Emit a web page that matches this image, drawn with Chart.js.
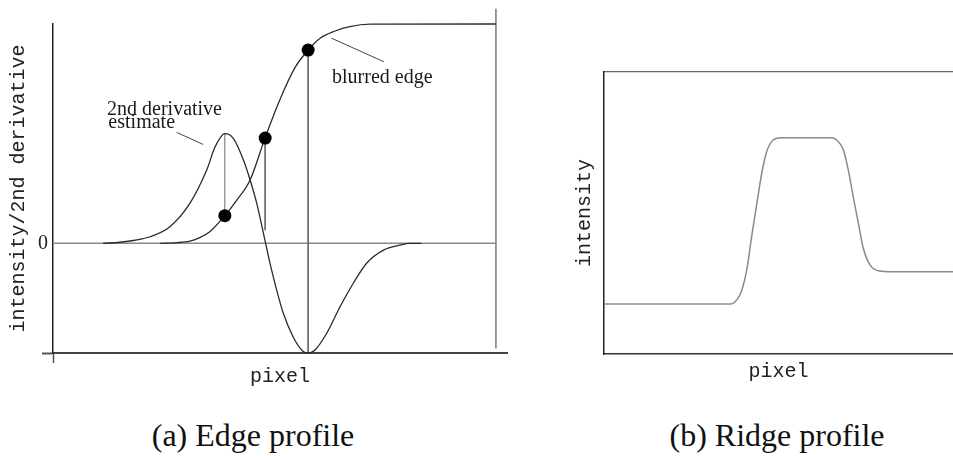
<!DOCTYPE html>
<html><head><meta charset="utf-8">
<script src="https://cdn.jsdelivr.net/npm/chart.js@4.4.1/dist/chart.umd.min.js"></script>
<style>
html,body{margin:0;padding:0;background:#fff;width:953px;height:456px;overflow:hidden;}
#wrap{position:relative;width:953px;height:456px;background:#fff;}
canvas{position:absolute;}
#cL{left:0;top:0;}
#cR{left:540px;top:0;}
.cap{position:absolute;top:419px;font-family:"Liberation Serif","Times New Roman",serif;font-size:32px;line-height:32px;color:#111;white-space:nowrap;transform:translateX(-50%);}
</style></head><body>
<div id="wrap">
<canvas id="cL" width="520" height="400"></canvas>
<canvas id="cR" width="413" height="400"></canvas>
<div class="cap" style="left:253px">(a) Edge profile</div>
<div class="cap" style="left:777px">(b) Ridge profile</div>
</div>
<script>
// ---------- (a) Edge profile ----------
const edgeX = [24.2, 28.0, 30.9, 33.0, 35.4, 38.8, 41.5, 44.5, 47.9, 51.2, 54.6, 57.6, 60.3, 63.7, 67.0, 71.6, 100];
const edgeY = [0, 0.003, 0.01, 0.025, 0.053, 0.126, 0.197, 0.289, 0.482, 0.654, 0.80, 0.881, 0.935, 0.968, 0.988, 0.999, 1.0];

const derivX = [11.3, 15.1, 18.5, 21.9, 26.4, 30.9, 34.7, 36.6, 38.8, 40.7, 43.0, 44.5, 46.0, 48.0, 49.0, 50.5, 52.0, 54.2, 56.3, 57.3, 59.1, 61.8, 64.8, 67.8, 70.8, 74.6, 78.3, 80.6, 83.2];
const derivY = [0, 0.005, 0.014, 0.030, 0.076, 0.182, 0.334, 0.44, 0.50, 0.479, 0.38, 0.289, 0.182, 0, -0.091, -0.213, -0.319, -0.426, -0.49, -0.5, -0.487, -0.41, -0.289, -0.182, -0.091, -0.031, -0.008, 0, 0];

const sampleX = [38.8, 47.9, 57.6];
const sampleY = [0.126, 0.48, 0.881];
const dropToY = [0.5, 0.06, -0.5];

const yTickValues = [-0.5, 0];
const yTickLabels = ['', '0'];

const noteText = ['2nd derivative', 'estimate', 'blurred edge'];
const noteX = [12.2, 12.5, 63.0];
const noteY = [0.583, 0.526, 0.731];
const leaderX = [[27.9, 33.9], [62.9, 74.7]];
const leaderY = [[0.506, 0.451], [0.935, 0.828]];

// ---------- (b) Ridge profile ----------
const ridgeX = [0, 36.1, 38.0, 39.5, 40.9, 42.3, 43.8, 45.2, 46.6, 48.5, 50.9, 64.8, 66.7, 68.6, 70.0, 71.4, 72.9, 74.3, 76.2, 79.1, 81.5, 100];
const ridgeY = [0.177, 0.177, 0.191, 0.227, 0.298, 0.416, 0.534, 0.641, 0.717, 0.759, 0.767, 0.767, 0.759, 0.723, 0.652, 0.558, 0.463, 0.375, 0.316, 0.294, 0.292, 0.292];

// ---------- helpers ----------
const pts = (xs, ys) => xs.map((x, i) => ({x: x, y: ys[i]}));
const MONO = '"Courier New","Liberation Mono","DejaVu Sans Mono",monospace';
const SERIF = '"Liberation Serif","Times New Roman",serif';
const curve = (data, color, w) => ({type: 'line', data, borderColor: color, borderWidth: w, pointRadius: 0, fill: false, cubicInterpolationMode: 'monotone', clip: false});
const seg = (data, color, w) => ({type: 'line', data, borderColor: color, borderWidth: w, pointRadius: 0, fill: false, tension: 0, clip: false});

const noteAt = {
  id: 'noteAt',
  afterDatasetsDraw(chart) {
    const {ctx, scales: {x, y}} = chart;
    ctx.save();
    ctx.font = '20px ' + SERIF;
    ctx.fillStyle = '#1a1a1a';
    ctx.textAlign = 'left';
    ctx.textBaseline = 'alphabetic';
    noteText.forEach((t, i) => ctx.fillText(t, x.getPixelForValue(noteX[i]), y.getPixelForValue(noteY[i])));
    ctx.restore();
  }
};

Chart.defaults.font.family = SERIF;
Chart.defaults.color = '#222';

const LH = 400; // canvas heights
const leftDatasets = [
  {type: 'line', data: pts(sampleX, sampleY), showLine: false, pointRadius: 6.5, pointHoverRadius: 6.5,
   pointBackgroundColor: '#000', pointBorderColor: '#000', pointBorderWidth: 0, clip: false},
  curve(pts(edgeX, edgeY), '#2b2b2b', 1.3),
  curve(pts(derivX, derivY), '#2b2b2b', 1.3),
  ...sampleX.map((sx, i) => seg([{x: sx, y: sampleY[i]}, {x: sx, y: dropToY[i]}], '#6a6a6a', 1)),
  ...leaderX.map((lx, i) => seg(pts(lx, leaderY[i]), '#444', 1)),
  seg([{x: 0, y: 0}, {x: 100, y: 0}], '#8a8a8a', 1.5),
  seg([{x: 100, y: 1.07}, {x: 100, y: -0.48}], '#7a7a7a', 1.5)
];

new Chart(document.getElementById('cL'), {
  type: 'line',
  data: {datasets: leftDatasets},
  plugins: [noteAt],
  options: {
    responsive: false, animation: false, devicePixelRatio: 1,
    layout: {padding: {left: 0, top: 24, right: 13, bottom: 0}, autoPadding: false},
    plugins: {legend: {display: false}, tooltip: {enabled: false}},
    events: [],
    scales: {
      x: {
        type: 'linear', min: 0, max: 102.5,
        afterFit: s => { s.height = LH - 353; },
        afterBuildTicks: s => { s.ticks = [{value: 0}]; },
        ticks: {callback: () => '', padding: 0},
        grid: {display: true, drawOnChartArea: false, drawTicks: true, tickLength: 10, tickColor: '#555', tickWidth: 1.5, color: '#555'},
        border: {display: true, color: '#444', width: 2},
        title: {display: true, text: 'pixel', font: {family: MONO, size: 20}, color: '#222', padding: {top: 0, bottom: 11}}
      },
      y: {
        type: 'linear', min: -0.5, max: 1.0,
        afterFit: s => { s.width = 53; },
        afterBuildTicks: s => { s.ticks = yTickValues.map(v => ({value: v})); },
        ticks: {callback: v => yTickLabels[yTickValues.indexOf(v)] ?? '', font: {family: SERIF, size: 20}, color: '#222', padding: -6},
        grid: {display: true, drawOnChartArea: false, drawTicks: true, tickLength: 11, tickWidth: 2,
               tickColor: ctx => (ctx.tick && ctx.tick.value === -0.5) ? '#555' : 'rgba(0,0,0,0)', color: 'rgba(0,0,0,0)'},
        border: {display: true, color: '#222', width: 1.5},
        title: {display: true, text: 'intensity/2nd derivative', font: {family: MONO, size: 20}, color: '#222', padding: {top: 7, bottom: 0}}
      }
    }
  }
});

new Chart(document.getElementById('cR'), {
  type: 'line',
  data: {datasets: [curve(pts(ridgeX, ridgeY), '#8a8a8a', 1.5)]},
  options: {
    responsive: false, animation: false, devicePixelRatio: 1,
    layout: {padding: {left: 0, top: 72, right: 0, bottom: 0}, autoPadding: false},
    plugins: {legend: {display: false}, tooltip: {enabled: false}},
    events: [],
    scales: {
      x: {
        type: 'linear', min: 0, max: 100,
        afterFit: s => { s.height = LH - 354; },
        ticks: {display: false},
        grid: {display: false},
        border: {display: true, color: '#333', width: 1.5},
        title: {display: true, text: 'pixel', font: {family: MONO, size: 20}, color: '#222', padding: {top: 0, bottom: 16}}
      },
      x2: {
        type: 'linear', position: 'top', min: 0, max: 100,
        afterFit: s => { s.height = 0; },
        ticks: {display: false},
        grid: {display: false},
        border: {display: true, color: '#666', width: 1.2}
      },
      y: {
        type: 'linear', min: 0, max: 1,
        afterFit: s => { s.width = 64; },
        ticks: {display: false},
        grid: {display: false},
        border: {display: true, color: '#222', width: 1.5},
        title: {display: true, text: 'intensity', font: {family: MONO, size: 20}, color: '#222', padding: {top: 33, bottom: 0}}
      }
    }
  }
});
</script>
</body></html>
